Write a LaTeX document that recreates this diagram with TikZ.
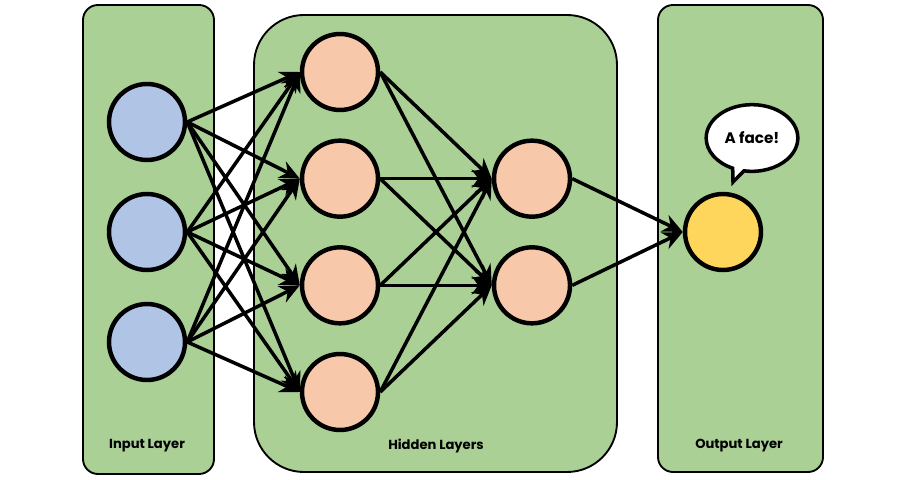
\documentclass[tikz,border=0pt]{standalone}
\usepackage{fontspec}
\setmainfont{Poppins}
\usepackage{tikz}
\usetikzlibrary{arrows.meta,shapes,positioning}
\definecolor{nngreen}{RGB}{170,208,150}
\definecolor{nnblue}{RGB}{176,196,230}
\definecolor{nnsalmon}{RGB}{247,200,170}
\definecolor{nnyellow}{RGB}{255,214,92}
\tikzstyle{arrow} = [line width=3pt,-{Stealth[length=6mm,width=5.4mm]},color=black]
\tikzstyle{layer} = [rectangle, rounded corners=0.45cm, draw=black, fill=nngreen, line width=1.6pt]
\tikzstyle{neuron} = [circle, minimum size=2.28cm, draw=black, line width=3.8pt]
\tikzstyle{caption} = [font=\fontsize{11.2}{13}\selectfont\bfseries]

\begin{document}
\begin{tikzpicture}
\useasboundingbox (0,0) rectangle (27,14.37);
% Layer panels
\draw[layer] (2.49,0.15) rectangle (6.42,14.22);
\draw[layer, rounded corners=1.5cm] (7.62,0.21) rectangle (18.51,13.92);
\draw[layer] (19.74,0.21) rectangle (24.69,14.22);

% Input layer
\node (in1) [neuron, fill=nnblue] at (4.41,10.71) {};
\node (in2) [neuron, fill=nnblue, below of=in1, node distance=3.3cm] {};
\node (in3) [neuron, fill=nnblue, below of=in2, node distance=3.3cm] {};

% Hidden layers
\node (ha1) [neuron, fill=nnsalmon] at (10.2,12.21) {};
\node (ha2) [neuron, fill=nnsalmon, below of=ha1, node distance=3.2cm] {};
\node (ha3) [neuron, fill=nnsalmon, below of=ha2, node distance=3.2cm] {};
\node (ha4) [neuron, fill=nnsalmon, below of=ha3, node distance=3.2cm] {};
\node (hb1) [neuron, fill=nnsalmon, right of=ha2, node distance=5.76cm] {};
\node (hb2) [neuron, fill=nnsalmon, right of=ha3, node distance=5.76cm] {};

% Output layer
\node (out) [neuron, fill=nnyellow] at (21.69,7.41) {};
\node (bubble) [ellipse callout, draw=black, fill=white, line width=3pt, minimum width=2.75cm, minimum height=2cm, callout absolute pointer={(21.99,8.91)}, font=\fontsize{13}{15}\selectfont\bfseries] at (22.56,10.23) {A face!};

% Input -> hidden
\draw[arrow] (in1.east) -- (ha1.west);
\draw[arrow] (in1.east) -- (ha2.west);
\draw[arrow] (in1.east) -- (ha3.west);
\draw[arrow] (in1.east) -- (ha4.west);
\draw[arrow] (in2.east) -- (ha1.west);
\draw[arrow] (in2.east) -- (ha2.west);
\draw[arrow] (in2.east) -- (ha3.west);
\draw[arrow] (in2.east) -- (ha4.west);
\draw[arrow] (in3.east) -- (ha1.west);
\draw[arrow] (in3.east) -- (ha2.west);
\draw[arrow] (in3.east) -- (ha3.west);
\draw[arrow] (in3.east) -- (ha4.west);

% Hidden -> hidden
\draw[arrow] (ha1.east) -- (hb1.west);
\draw[arrow] (ha1.east) -- (hb2.west);
\draw[arrow] (ha2.east) -- (hb1.west);
\draw[arrow] (ha2.east) -- (hb2.west);
\draw[arrow] (ha3.east) -- (hb1.west);
\draw[arrow] (ha3.east) -- (hb2.west);
\draw[arrow] (ha4.east) -- (hb1.west);
\draw[arrow] (ha4.east) -- (hb2.west);

% Hidden -> output
\draw[arrow] (hb1.east) -- (out.west);
\draw[arrow] (hb2.east) -- (out.west);

% Captions
\node (capin) [caption] at (4.41,0.99) {Input Layer};
\node (caphid) [caption] at (13.08,0.99) {Hidden Layers};
\node (capout) [caption] at (22.17,0.99) {Output Layer};
\end{tikzpicture}
\end{document}
